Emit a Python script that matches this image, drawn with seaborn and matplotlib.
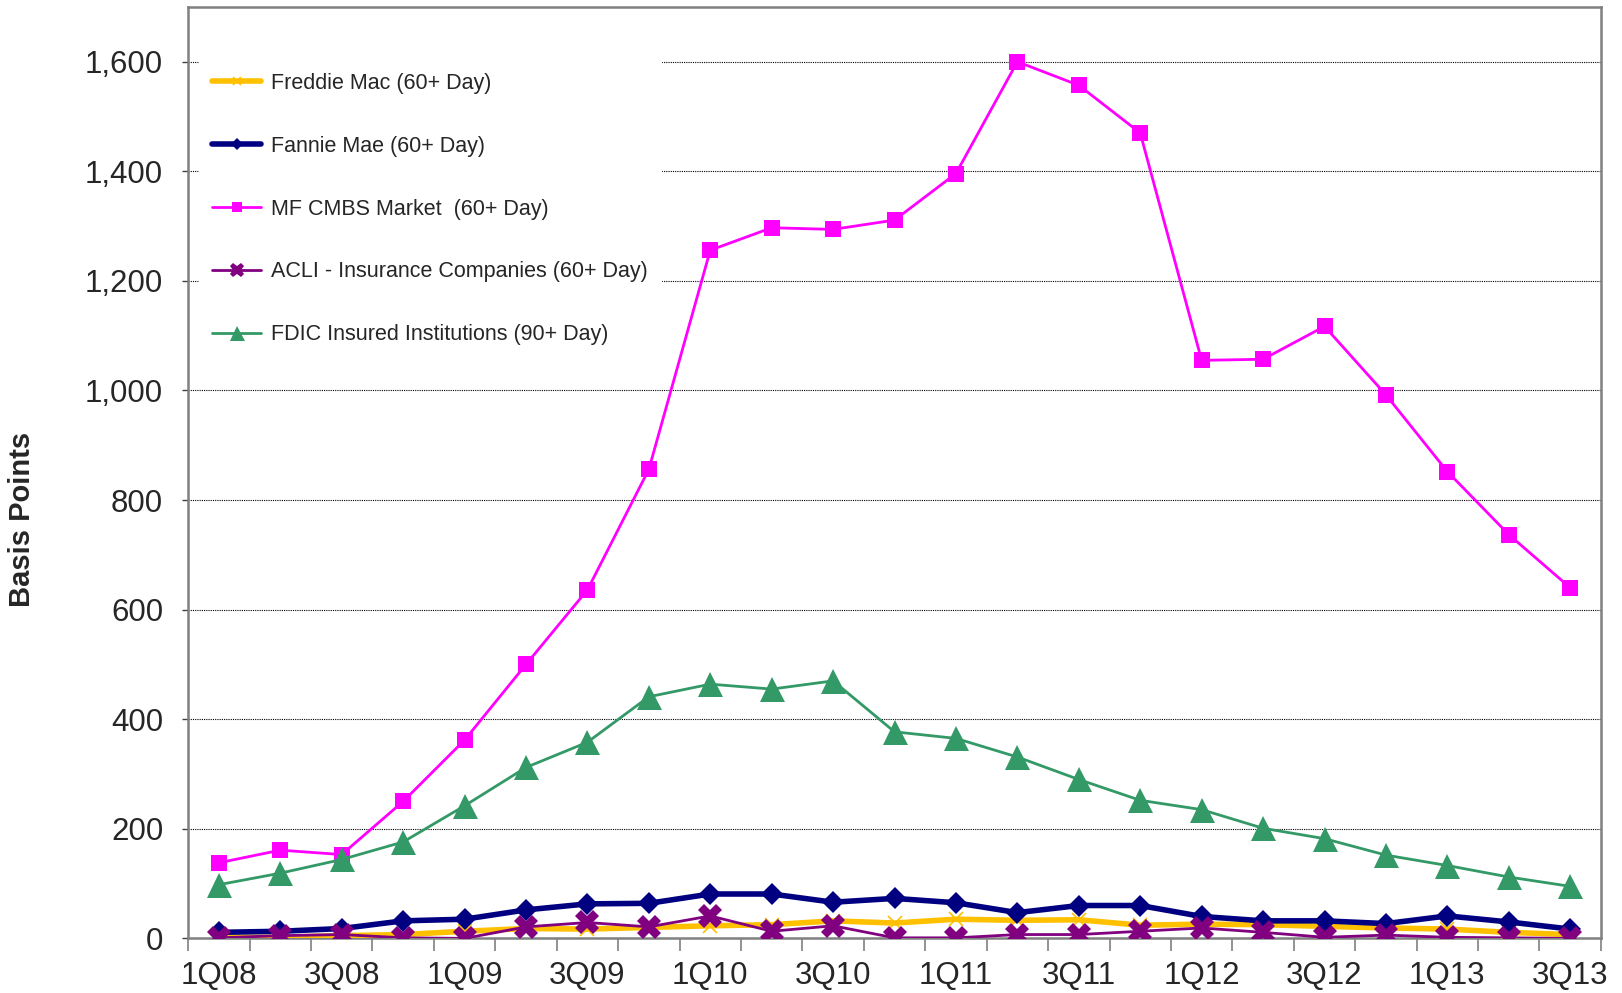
import matplotlib
matplotlib.use('Agg')
import matplotlib.pyplot as plt
from matplotlib.ticker import FuncFormatter, FixedLocator
import numpy as np
import pandas as pd
import seaborn as sns

quarters = ['1Q08', '2Q08', '3Q08', '4Q08', '1Q09', '2Q09', '3Q09', '4Q09',
            '1Q10', '2Q10', '3Q10', '4Q10', '1Q11', '2Q11', '3Q11', '4Q11',
            '1Q12', '2Q12', '3Q12', '4Q12', '1Q13', '2Q13', '3Q13']

freddie = [2, 2, 5, 7, 13, 18, 17, 20, 23, 25, 32, 28, 35, 33, 34, 24,
           26, 25, 22, 19, 17, 11, 7]
fannie = [11, 13, 18, 32, 35, 52, 63, 64, 81, 81, 66, 73, 65, 47, 60, 60,
          40, 32, 32, 27, 41, 30, 17]
mf_cmbs = [138, 161, 153, 250, 362, 500, 636, 856, 1256, 1297, 1294, 1311,
           1396, 1600, 1557, 1470, 1055, 1057, 1117, 992, 852, 737, 640]
acli = [1, 5, 7, 1, 0, 21, 29, 21, 41, 13, 23, 1, 1, 7, 7, 13,
        19, 11, 2, 6, 2, 1, 0]
fdic = [98, 119, 144, 176, 242, 312, 358, 441, 464, 455, 470, 377, 365,
        331, 290, 252, 235, 201, 182, 152, 133, 112, 95]

series = [
    ('Freddie Mac (60+ Day)', freddie, '#FFC000', 4.0, 'x', 10, 1.2),
    ('Fannie Mae (60+ Day)', fannie, '#000080', 4.0, 'D', 11, 0),
    ('MF CMBS Market  (60+ Day)', mf_cmbs, '#FF00FF', 2.0, 's', 11, 0),
    ('ACLI - Insurance Companies (60+ Day)', acli, '#800080', 2.0, 'X', 17, 0),
    ('FDIC Insured Institutions (90+ Day)', fdic, '#339966', 2.0, '^', 18, 0),
]

sns.set_style('white')
plt.rcParams['font.family'] = ['Liberation Sans', 'DejaVu Sans']

fig = plt.figure(figsize=(16.22, 9.93), dpi=100)
ax = fig.add_axes([0.116, 0.055, 0.871, 0.938])

x = np.arange(len(quarters))
order = [4, 2, 3, 0, 1]
for i in order:
    label, vals, color, lw, marker, ms, mew = series[i]
    df = pd.DataFrame({'q': x, 'v': vals})
    sns.lineplot(data=df, x='q', y='v', ax=ax, color=color, linewidth=lw,
                 marker=marker, markersize=ms, markeredgewidth=mew,
                 markeredgecolor=color, label=label, zorder=3 + i)

ax.set_xlim(-0.5, len(quarters) - 0.5)
ax.set_ylim(0, 1700)

ax.yaxis.set_major_locator(FixedLocator(np.arange(0, 1601, 200)))
ax.yaxis.set_major_formatter(FuncFormatter(lambda v, p: f'{int(v):,}'))
ax.set_xticks(x[::2])
ax.set_xticklabels(quarters[::2])
ax.xaxis.set_minor_locator(FixedLocator(np.arange(-0.5, len(quarters), 1)))

ax.tick_params(axis='x', which='major', length=0, labelsize=22.5, pad=16)
ax.tick_params(axis='x', which='minor', length=9, width=1.2, color='#808080',
               direction='out', bottom=True)
ax.tick_params(axis='y', which='major', length=4, width=1, color='#404040',
               direction='out', left=True, labelsize=22.5, pad=14)

for y in np.arange(200, 1601, 200):
    ax.axhline(y, color='black', linewidth=0.8, linestyle=(0, (1, 1)), zorder=1)

for s in ax.spines.values():
    s.set_color('#808080')
    s.set_linewidth(1.8)

ax.set_xlabel('')
ax.set_ylabel('Basis Points', fontsize=21, fontweight='bold')
ax.yaxis.set_label_coords(-0.108, 0.45)

handles, labels = ax.get_legend_handles_labels()
by_label = dict(zip(labels, handles))
names = [s[0] for s in series]
leg = ax.legend([by_label[n] for n in names], names, loc='upper left',
                bbox_to_anchor=(0.0, 0.955), fontsize=15.5, frameon=True,
                framealpha=1, facecolor='white', edgecolor='white',
                labelspacing=1.95, handlelength=2.3, handletextpad=0.45,
                borderpad=0.6, markerscale=0.6, fancybox=False)
leg.set_zorder(20)

fig.savefig('out.png', dpi=100)
plt.close(fig)
